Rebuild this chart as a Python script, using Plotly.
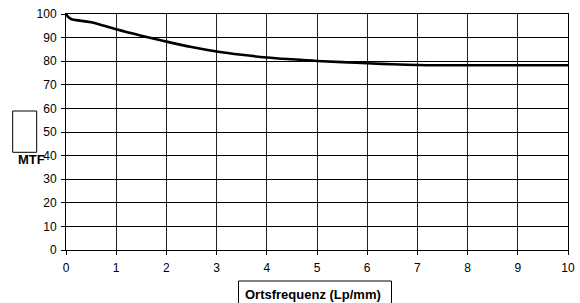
import plotly.graph_objects as go

freq = [0, 0.05, 0.1, 0.2, 0.5, 1, 1.5, 2, 2.5, 3, 3.5, 4, 4.5, 5, 5.5, 6, 6.5, 7, 7.5, 8, 9, 10]
mtf = [100, 98.6, 97.9, 97.4, 96.5, 93.5, 90.8, 88.3, 86.0, 84.1, 82.7, 81.6, 80.8, 80.1, 79.6, 79.1, 78.7, 78.4, 78.3, 78.3, 78.3, 78.3]

x_ticks = list(range(0, 11))
y_ticks = list(range(0, 101, 10))

FONT = "Liberation Sans, Arial, sans-serif"
W, H = 580, 303
L, R, T, B = 66, 12, 14, 53
pw, ph = W - L - R, H - T - B

def px(xp):
    return (xp - L) / pw

def py(yp):
    return (H - B - yp) / ph

fig = go.Figure()
fig.add_trace(go.Scatter(x=freq, y=mtf, mode="lines",
                         line=dict(color="black", width=2.6, shape="spline", smoothing=1.0),
                         hoverinfo="skip", showlegend=False))

fig.update_layout(
    width=W, height=H, autosize=False,
    margin=dict(l=L, r=R, t=T, b=B, pad=0, autoexpand=False),
    paper_bgcolor="white", plot_bgcolor="white",
    font=dict(family=FONT, size=12, color="black"),
    xaxis=dict(range=[0, 10], tickvals=x_ticks, ticks="outside", ticklen=4, tickcolor="black",
               showgrid=True, gridcolor="#222", gridwidth=1, showline=True, linecolor="black",
               linewidth=1, mirror=True, zeroline=False, tickfont=dict(size=12),
               ticklabelstandoff=3, fixedrange=True, automargin=False),
    yaxis=dict(range=[0, 100], tickvals=y_ticks, ticks="outside", ticklen=4, tickcolor="black",
               showgrid=True, gridcolor="black", gridwidth=1, showline=True, linecolor="black",
               linewidth=1, mirror=True, zeroline=False, tickfont=dict(size=12),
               ticklabelstandoff=2, fixedrange=True, automargin=False),
    shapes=[
        dict(type="rect", xref="paper", yref="paper", x0=px(12.7), x1=px(36.7), y0=py(152.3), y1=py(111),
             line=dict(color="black", width=1), fillcolor="white"),
        dict(type="rect", xref="paper", yref="paper", x0=px(238.5), x1=px(391.5), y0=py(281), y1=py(310),
             line=dict(color="black", width=1), fillcolor="white"),
    ],
    annotations=[
        dict(text="<b>MTF</b>", xref="paper", yref="paper", x=px(31), y=py(159.5),
             showarrow=False, font=dict(size=13, family=FONT, color="black"),
             xanchor="center", yanchor="middle"),
        dict(text="<b>Ortsfrequenz (Lp/mm)</b>", xref="paper", yref="paper", x=px(313), y=py(294),
             showarrow=False, font=dict(size=13, family=FONT, color="black"),
             xanchor="center", yanchor="middle"),
    ],
)

fig.write_html("out.html", config={"displayModeBar": False},
               post_script="document.body.style.margin='0';document.body.style.overflow='hidden';")
